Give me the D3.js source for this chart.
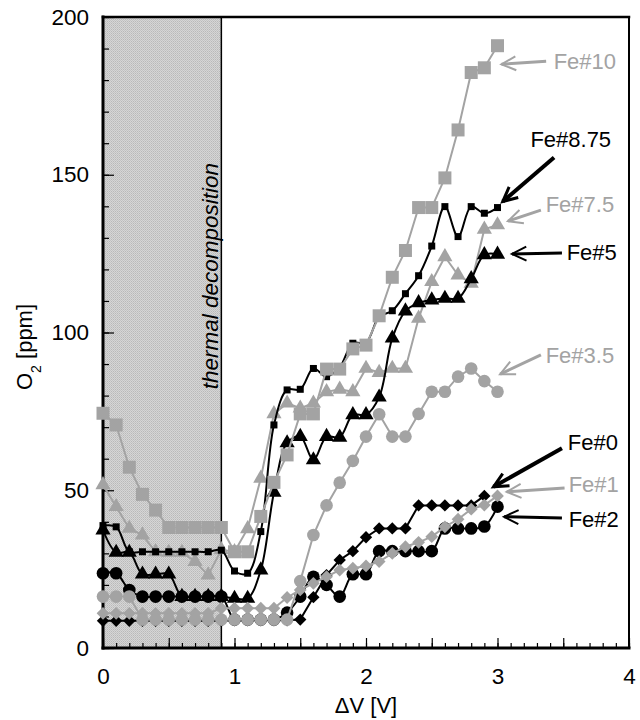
<!DOCTYPE html>
<html>
<head>
<meta charset="utf-8">
<script src="https://cdn.jsdelivr.net/npm/d3@7"></script>
<style>
	body { margin: 0; background: #fff; }
</style>
</head>
<body>
<div id="chart"></div>
<script>
// applied voltage steps [V]
const volts = [0, 0.1, 0.2, 0.3, 0.4, 0.5, 0.6, 0.7, 0.8, 0.9, 1.0, 1.1, 1.2, 1.3, 1.4, 1.5,
	1.6, 1.7, 1.8, 1.9, 2.0, 2.1, 2.2, 2.3, 2.4, 2.5, 2.6, 2.7, 2.8, 2.9, 3.0];

// O2 readings [ppm]
const fe10 = [74.4, 70.7, 57.3, 48.7, 43.7, 38.2, 38.2, 38.2, 38.2, 38.2, 30.5, 30.5, 41.7, 52.5, 61.2, 74.2,
	74.2, 88.4, 88.4, 94.8, 96.0, 105.3, 117.5, 126.0, 139.6, 139.6, 149.0, 164.2, 182.4, 183.9, 190.9];
const fe875 = [38.8, 38.4, 30.5, 30.5, 30.5, 30.5, 30.5, 30.5, 30.5, 31.0, 24.4, 23.7, 36.9, 70.7, 81.8, 82.0,
	88.6, 86.0, 89.0, 96.6, 96.8, 105.0, 106.9, 112.3, 118.0, 127.4, 139.9, 130.4, 139.9, 137.8, 139.6];
const fe75 = [51.7, 44.8, 37.9, 35.8, 30.5, 30.3, 30.3, 27.4, 23.1, 31.1, 30.5, 37.8, 53.8, 74.2, 77.6, 76.0,
	77.6, 81.2, 82.0, 81.2, 88.6, 87.3, 88.6, 88.6, 104.5, 116.1, 124.0, 118.2, 115.6, 132.7, 134.1];
const fe5 = [37.4, 30.3, 30.3, 23.4, 23.4, 23.4, 16.3, 16.3, 16.3, 16.3, 15.7, 15.7, 24.7, 49.3, 65.0, 67.0,
	59.6, 67.0, 66.8, 73.9, 73.9, 79.5, 98.2, 106.8, 109.4, 110.3, 110.8, 110.8, 117.0, 124.6, 124.8];
const fe35 = [16.3, 16.3, 16.3, 9.0, 9.0, 9.0, 9.0, 9.0, 9.0, 9.0, 9.0, 9.0, 9.0, 9.0, 9.0, 21.2,
	35.8, 45.2, 52.4, 59.3, 67.0, 74.1, 67.0, 67.0, 74.2, 81.2, 81.2, 86.0, 88.6, 84.6, 81.2];
const fe2 = [23.7, 23.7, 18.4, 16.3, 16.3, 16.3, 16.3, 16.3, 16.3, 16.3, 9.0, 9.0, 9.0, 9.0, 11.2, 16.3,
	22.6, 20.0, 16.3, 23.4, 23.4, 30.7, 30.7, 30.7, 30.7, 30.7, 37.9, 37.9, 37.9, 38.5, 44.8];
const fe1 = [11.0, 11.0, 11.0, 11.0, 11.0, 11.0, 11.0, 11.0, 11.0, 12.6, 12.6, 12.6, 12.6, 12.6, 16.0, 18.4,
	20.5, 22.6, 24.7, 25.3, 26.0, 27.4, 30.0, 32.1, 33.5, 35.3, 38.4, 40.8, 44.0, 45.3, 48.2];
// Fe#0 stops at 2.9 V
const fe0 = [8.6, 8.6, 8.6, 8.6, 8.6, 8.6, 8.6, 8.6, 8.6, 8.6, 8.8, 8.8, 8.8, 8.8, 8.8, 9.0,
	16.1, 23.1, 27.9, 30.7, 35.1, 37.9, 37.9, 37.9, 45.2, 45.2, 45.2, 45.2, 45.2, 48.2];

const xTickLabels = [0, 1, 2, 3, 4];
const yTickLabels = [0, 50, 100, 150, 200];
const decompositionEnd = 0.9;

const GRAY = "#a3a3a3";
const FONT = "'Liberation Sans', Arial, sans-serif";

// drawing order matters (bottom -> top)
const series = [
	{ name: "Fe#7.5", values: fe75, color: GRAY, shape: "triangle", size: 100, smooth: false },
	{ name: "Fe#8.75", values: fe875, color: "#000", shape: "square", size: 49, smooth: true },
	{ name: "Fe#0", values: fe0, color: "#000", shape: "diamond", size: 76, smooth: false },
	{ name: "Fe#5", values: fe5, color: "#000", shape: "triangle", size: 100, smooth: true },
	{ name: "Fe#2", values: fe2, color: "#000", shape: "circle", size: 125, smooth: true },
	{ name: "Fe#1", values: fe1, color: GRAY, shape: "diamond", size: 82, smooth: false },
	{ name: "Fe#3.5", values: fe35, color: GRAY, shape: "circle", size: 125, smooth: false },
	{ name: "Fe#10", values: fe10, color: GRAY, shape: "square", size: 169, smooth: false }
];

// label + arrow layout, in data units
const notes = [
	{ name: "Fe#10", color: GRAY, tx: 3.427, ty: 183.5, from: [3.37, 186.0], to: [3.03, 185.0], w: 3 },
	{ name: "Fe#8.75", color: "#000", tx: 3.25, ty: 158.8, from: [3.43, 155.5], to: [3.04, 141.5], w: 4 },
	{ name: "Fe#7.5", color: GRAY, tx: 3.366, ty: 138.2, from: [3.33, 138.8], to: [3.08, 135.3], w: 3 },
	{ name: "Fe#5", color: "#000", tx: 3.526, ty: 123.0, from: [3.49, 125.2], to: [3.11, 124.9], w: 3 },
	{ name: "Fe#3.5", color: GRAY, tx: 3.366, ty: 90.3, from: [3.33, 92.9], to: [3.02, 86.8], w: 3 },
	{ name: "Fe#0", color: "#000", tx: 3.534, ty: 62.8, from: [3.49, 63.3], to: [2.97, 51.1], w: 4 },
	{ name: "Fe#1", color: GRAY, tx: 3.541, ty: 49.4, from: [3.51, 50.7], to: [3.07, 49.5], w: 3 },
	{ name: "Fe#2", color: "#000", tx: 3.541, ty: 38.4, from: [3.49, 41.2], to: [3.05, 41.6], w: 3 }
];

let margin = { top: 17, right: 11, bottom: 72, left: 103 },
	width = 640 - margin.left - margin.right,
	height = 720 - margin.top - margin.bottom;

let svg = d3.select("#chart").append("svg")
	.attr("width", 640)
	.attr("height", 720);

// fine dither used for the decomposition band
let pat = svg.append("defs").append("pattern")
	.attr("id", "dither")
	.attr("patternUnits", "userSpaceOnUse")
	.attr("width", 2).attr("height", 2);
pat.append("rect").attr("width", 2).attr("height", 2).attr("fill", "#d6d6d6");
pat.append("rect").attr("width", 1).attr("height", 1).attr("fill", "#b9b9b9");
pat.append("rect").attr("x", 1).attr("y", 1).attr("width", 1).attr("height", 1).attr("fill", "#c4c4c4");

let g = svg.append("g")
	.attr("transform", "translate(" + margin.left + "," + margin.top + ")");

let x = d3.scaleLinear().domain([0, 4]).range([0, width]);
let y = d3.scaleLinear().domain([0, 200]).range([height, 0]);

// shaded band
g.append("rect")
	.attr("x", x(0)).attr("y", 0)
	.attr("width", x(decompositionEnd) - x(0))
	.attr("height", height)
	.attr("fill", "url(#dither)");
g.append("line")
	.attr("x1", x(decompositionEnd)).attr("x2", x(decompositionEnd))
	.attr("y1", 0).attr("y2", height)
	.attr("stroke", "#000").attr("stroke-width", 1.5);

g.append("text")
	.attr("transform", "translate(" + x(0.876) + "," + y(82) + ") rotate(-90)")
	.attr("font-family", FONT)
	.attr("font-size", 22.5)
	.attr("font-style", "italic")
	.text("thermal decomposition");

// inward ticks
const tickAxis = (axis, vals, size) => axis.tickValues(vals).tickSize(size).tickFormat("");

let xb = g.append("g").attr("transform", "translate(0," + height + ")");
xb.append("g").call(tickAxis(d3.axisBottom(x), x.ticks(40), -5));
xb.append("g").call(tickAxis(d3.axisBottom(x), x.ticks(8), -10));
xb.append("g").call(d3.axisBottom(x).tickValues(xTickLabels).tickFormat(d3.format("d"))
	.tickSize(0).tickPadding(20));

let yl = g.append("g");
yl.append("g").call(tickAxis(d3.axisLeft(y), y.ticks(20), -6));
yl.append("g").call(tickAxis(d3.axisLeft(y), yTickLabels, -11));
yl.append("g").call(d3.axisLeft(y).tickValues(yTickLabels).tickFormat(d3.format("d"))
	.tickSize(0).tickPadding(14));

g.selectAll(".domain").remove();
g.selectAll(".tick line").attr("stroke", "#000").attr("stroke-width", 1.2);
g.selectAll(".tick text").attr("font-family", FONT).attr("font-size", 22.5).attr("fill", "#000");

// frame
const frame = [
	[0, 0, 0, height, 3], [0, height, width, height, 3],
	[0, 0, width, 0, 2.5], [width, 0, width, height, 2]
];
g.selectAll(".frame").data(frame).enter().append("line")
	.attr("x1", d => d[0]).attr("y1", d => d[1])
	.attr("x2", d => d[2]).attr("y2", d => d[3])
	.attr("stroke", "#000").attr("stroke-width", d => d[4])
	.attr("stroke-linecap", "square");

// series
const symbolFor = (s) => {
	if (s.shape === "square" || s.shape === "diamond") return d3.symbol(d3.symbolSquare, s.size)();
	if (s.shape === "triangle") return d3.symbol(d3.symbolTriangle, s.size)();
	return d3.symbol(d3.symbolCircle, s.size)();
};

series.forEach(function (s) {
	let pts = s.values.map((v, i) => [volts[i], v]);
	let line = d3.line()
		.x(d => x(d[0]))
		.y(d => y(d[1]))
		.curve(s.smooth ? d3.curveCatmullRom.alpha(0.5) : d3.curveLinear);

	let sg = g.append("g");
	sg.append("path")
		.datum(pts)
		.attr("fill", "none")
		.attr("stroke", s.color)
		.attr("stroke-width", 2)
		.attr("d", line);

	sg.selectAll("path.pt").data(pts).enter().append("path")
		.attr("class", "pt")
		.attr("d", symbolFor(s))
		.attr("transform", d => "translate(" + x(d[0]) + "," + y(d[1]) + ")" + (s.shape === "diamond" ? " rotate(45)" : ""))
		.attr("fill", s.color);
});

// labels with arrows
notes.forEach(function (n) {
	let x0 = x(n.from[0]), y0 = y(n.from[1]),
		x1 = x(n.to[0]), y1 = y(n.to[1]),
		ang = Math.atan2(y0 - y1, x0 - x1),
		len = 16, spread = 0.45;

	g.append("line")
		.attr("x1", x0).attr("y1", y0)
		.attr("x2", x1).attr("y2", y1)
		.attr("stroke", n.color).attr("stroke-width", n.w);

	let head = [
		[x1 + len * Math.cos(ang + spread), y1 + len * Math.sin(ang + spread)],
		[x1, y1],
		[x1 + len * Math.cos(ang - spread), y1 + len * Math.sin(ang - spread)]
	];
	g.append("path")
		.attr("d", d3.line()(head))
		.attr("fill", "none")
		.attr("stroke", n.color)
		.attr("stroke-width", n.w - 1)
		.attr("stroke-linejoin", "miter");

	g.append("text")
		.attr("x", x(n.tx)).attr("y", y(n.ty))
		.attr("font-family", FONT)
		.attr("font-size", 22)
		.attr("fill", n.color)
		.text(n.name);
});

// axis titles
svg.append("text")
	.attr("x", margin.left + x(2)).attr("y", 713)
	.attr("text-anchor", "middle")
	.attr("font-family", FONT).attr("font-size", 22)
	.text("\u0394V [V]");

let yt = svg.append("text")
	.attr("transform", "translate(32,390) rotate(-90)")
	.attr("font-family", FONT).attr("font-size", 22);
yt.append("tspan").text("O");
yt.append("tspan").attr("font-size", 14).attr("dy", 9).text("2");
yt.append("tspan").attr("dy", -9).text(" [ppm]");
</script>
</body>
</html>
